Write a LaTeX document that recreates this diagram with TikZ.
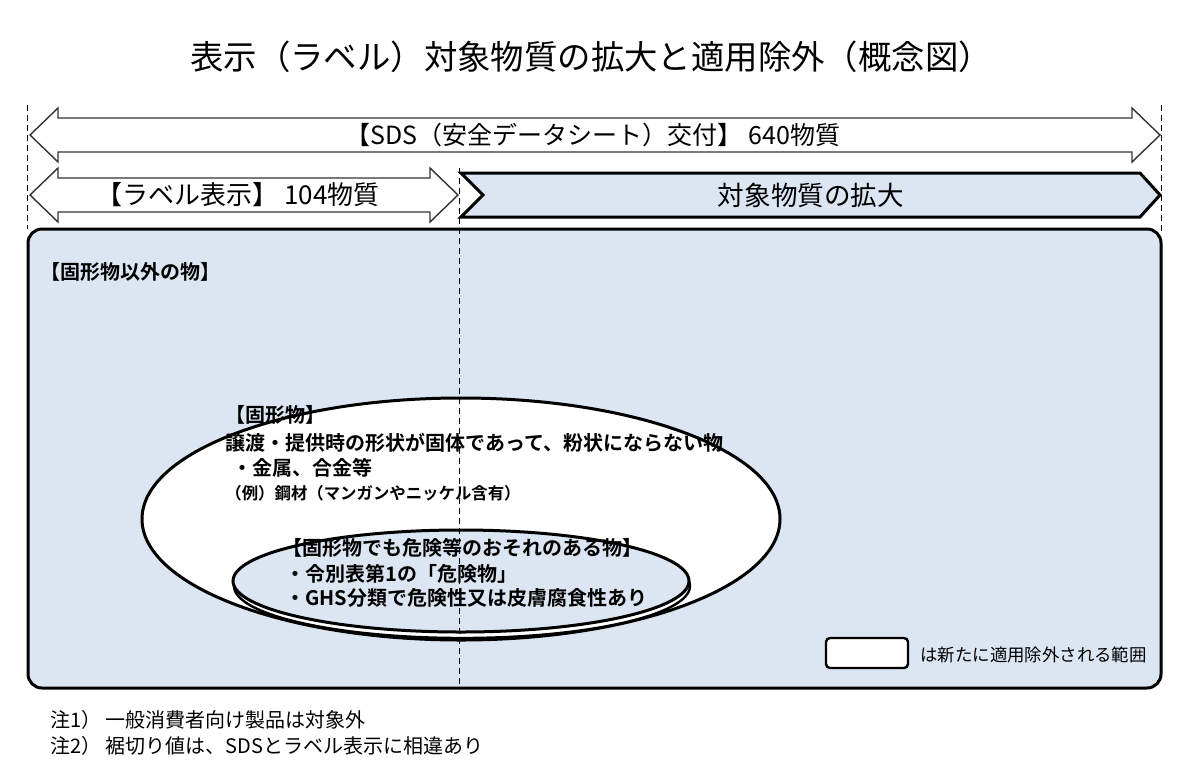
\documentclass[tikz,border=0pt]{standalone}
\usepackage{fontspec}
\setmainfont{Noto Sans CJK JP}[BoldFont={Noto Sans CJK JP Bold}]
\definecolor{paleblue}{RGB}{220,230,242}

\begin{document}
\begin{tikzpicture}[x=0.5pt,y=-0.5pt,
        thinarrow/.style={draw=black!80, line width=0.7pt, fill=white},
        guide/.style={black, dashed, line width=0.5pt, dash pattern=on 3pt off 2pt},
        boldtext/.style={anchor=west, inner sep=0pt, font=\bfseries\fontsize{10}{12}\selectfont},
        notetext/.style={anchor=west, inner sep=0pt, font=\fontsize{10}{12}\selectfont}]
        \useasboundingbox (0,0) rectangle (1187,766);
        \node (title) at (591,57) {\fontsize{16.7}{20}\selectfont 表示（ラベル）対象物質の拡大と適用除外（概念図）};

        % arrows on top
        \draw[thinarrow] (30,135) -- (58,108) -- (58,118) -- (1132,118) -- (1132,108) -- (1160,135)
                -- (1132,162) -- (1132,152) -- (58,152) -- (58,162) -- cycle;
        \draw[thinarrow] (30,195) -- (58,168) -- (58,178) -- (430,178) -- (430,168) -- (458,195)
                -- (430,222) -- (430,212) -- (58,212) -- (58,222) -- cycle;
        \draw[fill=paleblue, line width=1.5pt] (461,173) -- (1140,173) -- (1160,195) -- (1140,217)
                -- (461,217) -- (483,195) -- cycle;
        \node (sds) at (593,135) {\fontsize{12.5}{15}\selectfont 【SDS（安全データシート）交付】 640物質};
        \node (label) at (238,195) {\fontsize{13}{15}\selectfont 【ラベル表示】 104物質};
        \node (expand) at (811,195) {\fontsize{13.3}{15}\selectfont 対象物質の拡大};

        % main area
        \draw[fill=paleblue, line width=1.5pt, rounded corners=7pt] (28,229) rectangle (1161,688);
        \node[boldtext] (other) at (40,272) {【固形物以外の物】};

        \draw[fill=white, line width=1.5pt] (461,519) ellipse [x radius=319, y radius=121];
        \draw[fill=white, line width=1.2pt] (462,586) ellipse [x radius=228, y radius=52];
        \draw[fill=paleblue, line width=1.5pt] (461,581) ellipse [x radius=228, y radius=51];

        \node[boldtext] (solid) at (225,415) {【固形物】};
        \node[boldtext] (solida) at (225,443) {譲渡・提供時の形状が固体であって、粉状にならない物};
        \node[boldtext] (solidb) at (232,468) {・金属、合金等};
        \node[boldtext, font=\bfseries\fontsize{8.2}{10}\selectfont] (solidc) at (225,493) {（例）鋼材（マンガンやニッケル含有）};
        \node[boldtext] (danger) at (282,548) {【固形物でも危険等のおそれのある物】};
        \node[boldtext] (dangera) at (285,574) {・令別表第1の「危険物」};
        \node[boldtext] (dangerb) at (285,598) {・GHS分類で危険性又は皮膚腐食性あり};

        % dashed guides
        \draw[guide] (27,105) -- (27,229);
        \draw[guide] (1161,105) -- (1161,232);
        \draw[guide] (459,168) -- (459,686);

        % legend
        \draw[fill=white, line width=1.2pt, rounded corners=2pt] (826,638) rectangle (908,668);
        \node[anchor=west, inner sep=0pt] (legend) at (920,655) {\fontsize{8.7}{10}\selectfont は新たに適用除外される範囲};

        % notes
        \node[notetext] (note1) at (50,720) {注1） 一般消費者向け製品は対象外};
        \node[notetext] (note2) at (50,746) {注2） 裾切り値は、SDSとラベル表示に相違あり};
\end{tikzpicture}
\end{document}
